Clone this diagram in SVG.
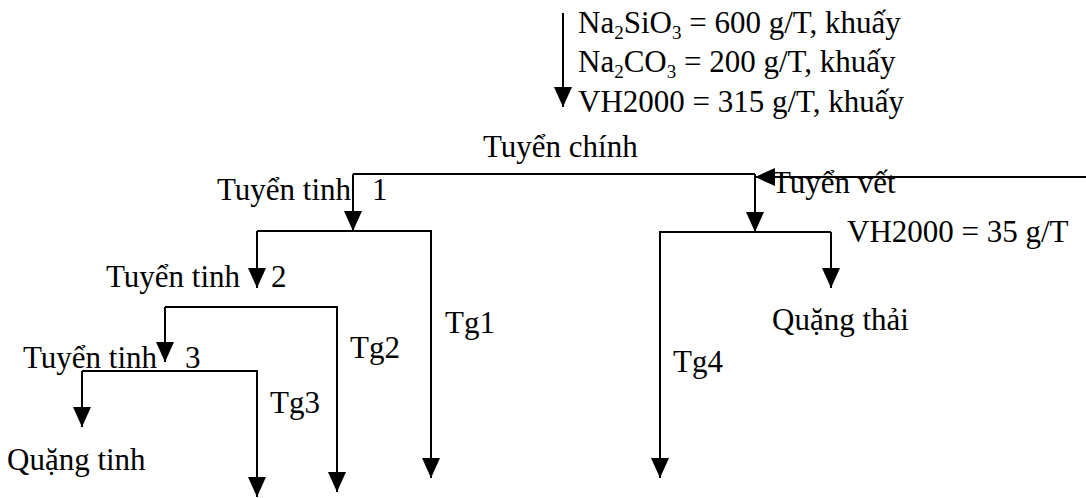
<svg xmlns="http://www.w3.org/2000/svg" width="1086" height="498" viewBox="0 0 1086 498">
<defs>
<marker id="ah" markerUnits="userSpaceOnUse" markerWidth="20" markerHeight="18" viewBox="0 0 20 18" refX="20" refY="9" orient="auto">
<path d="M0,0 L20,9 L0,18 z" fill="#000"/>
</marker>
<style>
text{font-family:"Liberation Serif","Times New Roman",serif;font-size:31px;fill:#000}
.sub{font-size:19px}
.c{fill:none;stroke:#000;stroke-width:2}
.a{marker-end:url(#ah)}
</style>
</defs>
<rect width="1086" height="498" fill="#fff"/>
<g id="connectors">
<path class="c a" d="M563,13 V107"/>
<path class="c" d="M353,174 H755"/>
<path class="c a" d="M353,174 V231"/>
<path class="c a" d="M755,174 V232"/>
<path class="c a" d="M1086,177 H755"/>
<path class="c a" d="M257,231 H431 V478"/>
<path class="c a" d="M257,231 V288"/>
<path class="c a" d="M165,307 H337 V492"/>
<path class="c a" d="M165,307 V362"/>
<path class="c a" d="M82,371 H257 V497"/>
<path class="c a" d="M82,371 V427"/>
<path class="c a" d="M831,232 H660 V478"/>
<path class="c a" d="M831,232 V288"/>
</g>
<g id="node-reagents">
<text x="578" y="33">Na<tspan class="sub" dy="6">2</tspan><tspan dy="-6">SiO</tspan><tspan class="sub" dy="6">3</tspan><tspan dy="-6"> = 600 g/T, khuấy</tspan></text>
<text x="578" y="72">Na<tspan class="sub" dy="6">2</tspan><tspan dy="-6">CO</tspan><tspan class="sub" dy="6">3</tspan><tspan dy="-6"> = 200 g/T, khuấy</tspan></text>
<text x="578" y="112">VH2000 = 315 g/T, khuấy</text>
</g>
<g id="node-tuyen-chinh"><text x="483" y="157">Tuyển chính</text></g>
<g id="node-tuyen-tinh-1"><text x="217" y="200">Tuyển tinh <tspan x="372">1</tspan></text></g>
<g id="node-tuyen-tinh-2"><text x="106" y="287">Tuyển tinh <tspan x="271">2</tspan></text></g>
<g id="node-tuyen-tinh-3"><text x="23" y="368">Tuyển tinh <tspan x="185">3</tspan></text></g>
<g id="node-quang-tinh"><text x="7" y="470">Quặng tinh</text></g>
<g id="node-tg1"><text x="445" y="333">Tg1</text></g>
<g id="node-tg2"><text x="350" y="358">Tg2</text></g>
<g id="node-tg3"><text x="270" y="413">Tg3</text></g>
<g id="node-tuyen-vet"><text x="772" y="193">Tuyển vết</text></g>
<g id="node-vh2000-35"><text x="847" y="242">VH2000 = 35 g/T</text></g>
<g id="node-quang-thai"><text x="772" y="330">Quặng thải</text></g>
<g id="node-tg4"><text x="673" y="372">Tg4</text></g>
</svg>
